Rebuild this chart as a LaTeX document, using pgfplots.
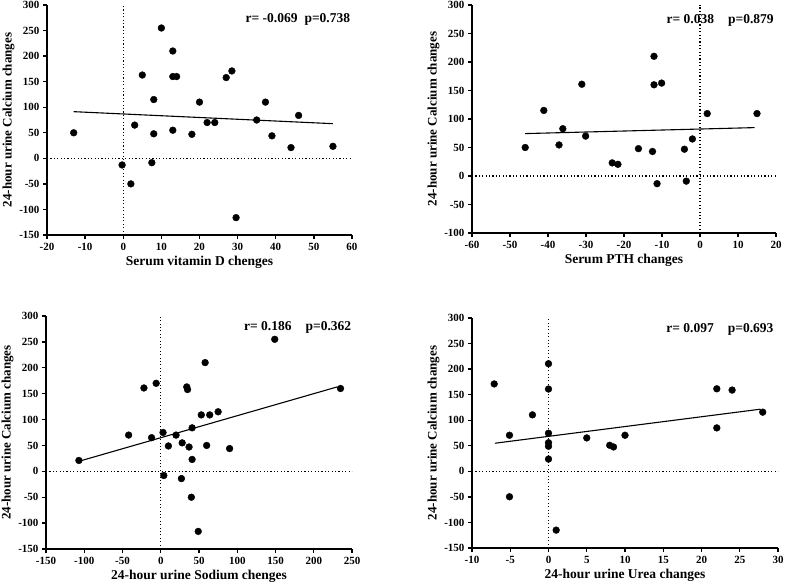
\documentclass[border=0pt]{standalone}
\usepackage{fontspec}
\setmainfont{Liberation Serif}
\usepackage{pgfplots}
\pgfplotsset{compat=1.18}

\pgfplotsset{
  panel/.style={
    scale only axis,
    anchor=south west,
    axis x line*=bottom,
    axis y line*=left,
    axis line style={line width=1.4pt},
    tick align=outside,
    major tick length=4pt,
    tick style={line width=1.4pt, black},
    clip=false,
    /pgf/number format/assume math mode=true,
    tick label style={font=\bfseries\fontsize{11}{13}\selectfont},
    xticklabel style={yshift=-1pt},
    xlabel style={font=\bfseries\fontsize{13.5}{15}\selectfont, yshift=2pt},
    ylabel style={font=\bfseries\fontsize{13}{15}\selectfont, yshift=-2pt},
    ylabel={24-hour urine Calcium changes},
  },
  dots/.style={only marks, mark=*, mark size=3.4pt, black},
  fit/.style={line width=1.1pt, black},
  zero/.style={line width=1.1pt, black, dash pattern=on 1.1pt off 2.3pt},
}
\tikzset{note/.style={font=\bfseries\fontsize{13.5}{15}\selectfont}}

\begin{document}
\begin{tikzpicture}
\useasboundingbox (0pt,0pt) rectangle (786pt,-588pt);

% top left: vitamin D
\begin{axis}[panel, at={(47pt,-235pt)}, width=305pt, height=230pt,
  xmin=-20, xmax=60, ymin=-150, ymax=300,
  xtick={-20,-10,...,60}, ytick={-150,-100,...,300},
  xlabel={Serum vitamin D chenges}]
  \addplot[zero] coordinates {(0,-150) (0,300)};
  \addplot[zero] coordinates {(-20,0) (60,0)};
  \addplot[fit] coordinates {(-13,91.3) (55,67.8)};
  \addplot[dots] coordinates {
    (-13,50) (-0.3,-13) (2,-50) (3,65) (5,163) (7.5,-8.5) (8,115) (8,48)
    (10,255) (13,210) (13,160) (14,160) (13,55) (18,47) (20,110) (22,70)
    (24,70) (27,158) (28.5,171) (29.6,-116) (35,75) (37.3,110) (39,44)
    (44,21) (46,84) (55,23.5)};
  \node[note] at (axis cs:45.8,271) {r= -0.069\hspace{7pt}p=0.738};
\end{axis}

% top right: PTH
\begin{axis}[panel, at={(472pt,-233pt)}, width=304pt, height=228pt,
  xmin=-60, xmax=20, ymin=-100, ymax=300,
  xtick={-60,-50,...,20}, ytick={-100,-50,...,300},
  xlabel={Serum PTH changes}]
  \addplot[zero] coordinates {(0,-100) (0,300)};
  \addplot[zero] coordinates {(-60,0) (20,0)};
  \addplot[fit] coordinates {(-46,74.4) (14.4,84.9)};
  \addplot[dots] coordinates {
    (-46,50) (-41.1,115) (-37.1,54.5) (-36.1,83) (-31.1,161) (-30.1,70)
    (-23.1,23) (-21.6,20.5) (-16.2,48) (-12.5,43) (-12.1,210) (-12.1,160)
    (-10.1,163) (-11.3,-13.5) (-4.1,47) (-3.6,-9) (-2,65) (1.9,109.5)
    (15,109.5)};
  \node[note] at (axis cs:5.3,273.7) {r= 0.038\hspace{14pt}p=0.879};
\end{axis}

% bottom left: sodium
\begin{axis}[panel, at={(46pt,-549pt)}, width=306pt, height=233pt,
  xmin=-150, xmax=250, ymin=-150, ymax=300,
  xtick={-150,-100,...,250}, ytick={-150,-100,...,300},
  xlabel={24-hour urine Sodium chenges}]
  \addplot[zero] coordinates {(0,-150) (0,300)};
  \addplot[zero] coordinates {(-150,0) (250,0)};
  \addplot[fit] coordinates {(-107,19.4) (231,163.2)};
  \addplot[dots] coordinates {
    (-107,21) (-42,70) (-22,161) (-12,65) (-6,170) (3,75) (4,-8) (10,49)
    (20,70) (27,-14) (28,55) (34,163) (35,158) (37,47) (40,-50) (41,84)
    (41,23) (49,-116) (53,109) (58,210) (60,50) (64,109) (75,115) (90,44)
    (149,255) (235,160)};
  \node[note] at (axis cs:179,277) {r= 0.186\hspace{14pt}p=0.362};
\end{axis}

% bottom right: urea
\begin{axis}[panel, at={(472pt,-548pt)}, width=306pt, height=230pt,
  xmin=-10, xmax=30, ymin=-150, ymax=300,
  xtick={-10,-5,...,30}, ytick={-150,-100,...,300},
  xlabel={24-hour urine Urea changes}]
  \addplot[zero] coordinates {(0,-150) (0,300)};
  \addplot[zero] coordinates {(-10,0) (30,0)};
  \addplot[fit] coordinates {(-7,55) (27.7,121.6)};
  \addplot[dots] coordinates {
    (-7.1,171) (-5.1,70.6) (-5.1,-49.7) (-2.1,110.5) (0,210.6) (0,161)
    (0,74.6) (0,56) (0,49) (0,24) (1,-115) (5,65.4) (8,51) (8.5,47.7)
    (10,70.6) (22,161.5) (22,85) (24,159) (28,115.8)};
  \node[note] at (axis cs:22.4,278.5) {r= 0.097\hspace{14pt}p=0.693};
\end{axis}
\end{tikzpicture}
\end{document}
